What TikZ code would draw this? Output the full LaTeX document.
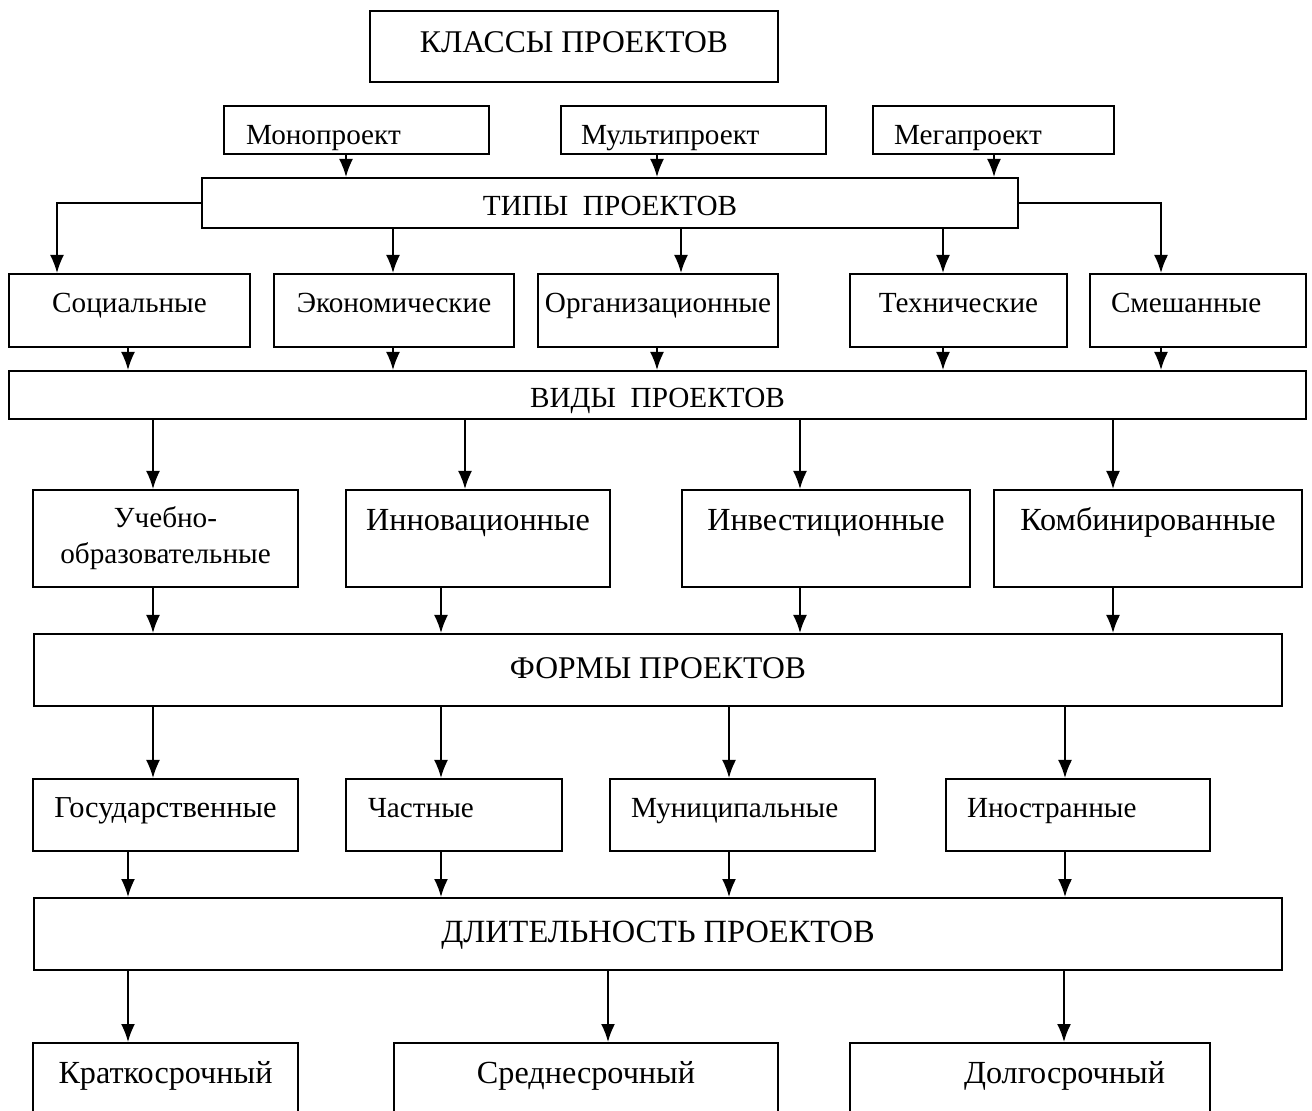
\documentclass[tikz,border=0pt]{standalone}
\usepackage{fontspec}
\setmainfont{Liberation Serif}
\usepackage{tikz}
\usetikzlibrary{arrows.meta,positioning}
\tikzset{>={Latex[length=9pt,width=7pt]}}
\tikzset{
  box/.style={draw, line width=1pt, rectangle, inner sep=0pt, anchor=north west,
    font=\fontsize{14.6}{18}\selectfont},
  headbox/.style={box, font=\fontsize{15.8}{19}\selectfont},
  bigbox/.style={box, font=\fontsize{16.1}{19}\selectfont},
  leftbox/.style={box, align=left, inner xsep=#1},
  rightbox/.style={bigbox, align=right, inner xsep=#1},
  link/.style={->, line width=0.9pt}
}

\begin{document}
\begin{tikzpicture}[x=0.5pt,y=-0.5pt]
      \clip (0,0) rectangle (1312,1111);
        % classes
        \node[headbox, minimum width=204pt, minimum height=35.5pt, text height=21pt, text depth=14.5pt]
          (classes) at (369,10) {КЛАССЫ ПРОЕКТОВ};
        \node[leftbox=11pt, text width=110.5pt, minimum height=24pt, text height=19.5pt, text depth=4.5pt]
          (mono) at (223,105) {Монопроект};
        \node[leftbox=10pt, text width=112.5pt, minimum height=24pt, text height=19.5pt, text depth=4.5pt]
          (multi) at (560,105) {Мультипроект};
        \node[leftbox=10.5pt, text width=99.5pt, minimum height=24pt, text height=19.5pt, text depth=4.5pt]
          (mega) at (872,105) {Мегапроект};
        % types
        \node[box, minimum width=408pt, minimum height=25pt, text height=19pt, text depth=6pt]
          (types) at (201,177) {ТИПЫ~~ПРОЕКТОВ};
        \node[box, minimum width=120.5pt, minimum height=36.5pt, text height=19.5pt, text depth=17pt]
          (social) at (8,273) {Социальные};
        \node[box, minimum width=120pt, minimum height=36.5pt, text height=19.5pt, text depth=17pt]
          (econ) at (273,273) {Экономические};
        \node[box, minimum width=120pt, minimum height=36.5pt, text height=19.5pt, text depth=17pt]
          (organ) at (537,273) {Организационные};
        \node[box, minimum width=108.5pt, minimum height=36.5pt, text height=19.5pt, text depth=17pt]
          (tech) at (849,273) {Технические};
        \node[leftbox=10.5pt, text width=87pt, minimum height=36.5pt, text height=19.5pt, text depth=17pt]
          (mixed) at (1089,273) {Смешанные};
        % kinds
        \node[box, minimum width=648.5pt, minimum height=24pt, text height=18.5pt, text depth=5.5pt]
          (kinds) at (8,370) {ВИДЫ~~ПРОЕКТОВ};
        \node[box, align=center, minimum width=132.5pt, minimum height=48.5pt]
          (edu) at (32,489) {Учебно-\\образовательные};
        \node[bigbox, minimum width=132pt, minimum height=48.5pt, text height=20.5pt, text depth=28pt]
          (innov) at (345,489) {Инновационные};
        \node[bigbox, minimum width=144pt, minimum height=48.5pt, text height=20.5pt, text depth=28pt]
          (invest) at (681,489) {Инвестиционные};
        \node[bigbox, minimum width=154pt, minimum height=48.5pt, text height=20.5pt, text depth=28pt]
          (comb) at (993,489) {Комбинированные};
        % forms
        \node[headbox, minimum width=624pt, minimum height=36pt, text height=22.5pt, text depth=13.5pt]
          (forms) at (33,633) {ФОРМЫ ПРОЕКТОВ};
        \node[box, font=\fontsize{15.2}{18}\selectfont, minimum width=132.5pt, minimum height=36pt, text height=19.5pt, text depth=16.5pt]
          (state) at (32,778) {Государственные};
        \node[leftbox=11pt, text width=86pt, minimum height=36pt, text height=19.5pt, text depth=16.5pt]
          (private) at (345,778) {Частные};
        \node[leftbox=10.5pt, text width=111.5pt, minimum height=36pt, text height=19.5pt, text depth=16.5pt]
          (munic) at (609,778) {Муниципальные};
        \node[leftbox=10.5pt, text width=111pt, minimum height=36pt, text height=19.5pt, text depth=16.5pt]
          (foreign) at (945,778) {Иностранные};
        % duration
        \node[headbox, font=\fontsize{16.2}{19}\selectfont, minimum width=624pt, minimum height=36pt, text height=22pt, text depth=14pt]
          (length) at (33,897) {ДЛИТЕЛЬНОСТЬ ПРОЕКТОВ};
        \node[bigbox, minimum width=132.5pt, minimum height=50pt, text height=20pt, text depth=30pt]
          (short) at (32,1042) {Краткосрочный};
        \node[bigbox, minimum width=192pt, minimum height=50pt, text height=20pt, text depth=30pt]
          (medium) at (393,1042) {Среднесрочный};
        \node[rightbox=22.5pt, text width=135pt, minimum height=50pt, text height=20pt, text depth=30pt]
          (long) at (849,1042) {Долгосрочный};

        \draw[link] (mono.south -| 346,0) -- (types.north -| 346,0);
        \draw[link] (multi.south -| 657,0) -- (types.north -| 657,0);
        \draw[link] (mega.south -| 994,0) -- (types.north -| 994,0);

        \draw[link] (types.west) -| (social.north -| 57,0);
        \draw[link] (types.south -| 393,0) -- (econ.north -| 393,0);
        \draw[link] (types.south -| 681,0) -- (organ.north -| 681,0);
        \draw[link] (types.south -| 943,0) -- (tech.north -| 943,0);
        \draw[link] (types.east) -| (mixed.north -| 1161,0);

        \draw[link] (social.south -| 128,0) -- (kinds.north -| 128,0);
        \draw[link] (econ.south -| 393,0) -- (kinds.north -| 393,0);
        \draw[link] (organ.south -| 657,0) -- (kinds.north -| 657,0);
        \draw[link] (tech.south -| 943,0) -- (kinds.north -| 943,0);
        \draw[link] (mixed.south -| 1161,0) -- (kinds.north -| 1161,0);

        \draw[link] (kinds.south -| 153,0) -- (edu.north -| 153,0);
        \draw[link] (kinds.south -| 465,0) -- (innov.north -| 465,0);
        \draw[link] (kinds.south -| 800,0) -- (invest.north -| 800,0);
        \draw[link] (kinds.south -| 1113,0) -- (comb.north -| 1113,0);

        \draw[link] (edu.south -| 153,0) -- (forms.north -| 153,0);
        \draw[link] (innov.south -| 441,0) -- (forms.north -| 441,0);
        \draw[link] (invest.south -| 800,0) -- (forms.north -| 800,0);
        \draw[link] (comb.south -| 1113,0) -- (forms.north -| 1113,0);

        \draw[link] (forms.south -| 153,0) -- (state.north -| 153,0);
        \draw[link] (forms.south -| 441,0) -- (private.north -| 441,0);
        \draw[link] (forms.south -| 729,0) -- (munic.north -| 729,0);
        \draw[link] (forms.south -| 1065,0) -- (foreign.north -| 1065,0);

        \draw[link] (state.south -| 128,0) -- (length.north -| 128,0);
        \draw[link] (private.south -| 441,0) -- (length.north -| 441,0);
        \draw[link] (munic.south -| 729,0) -- (length.north -| 729,0);
        \draw[link] (foreign.south -| 1065,0) -- (length.north -| 1065,0);

        \draw[link] (length.south -| 128,0) -- (short.north -| 128,0);
        \draw[link] (length.south -| 608,0) -- (medium.north -| 608,0);
        \draw[link] (length.south -| 1064,0) -- (long.north -| 1064,0);
      \end{tikzpicture}
\end{document}
